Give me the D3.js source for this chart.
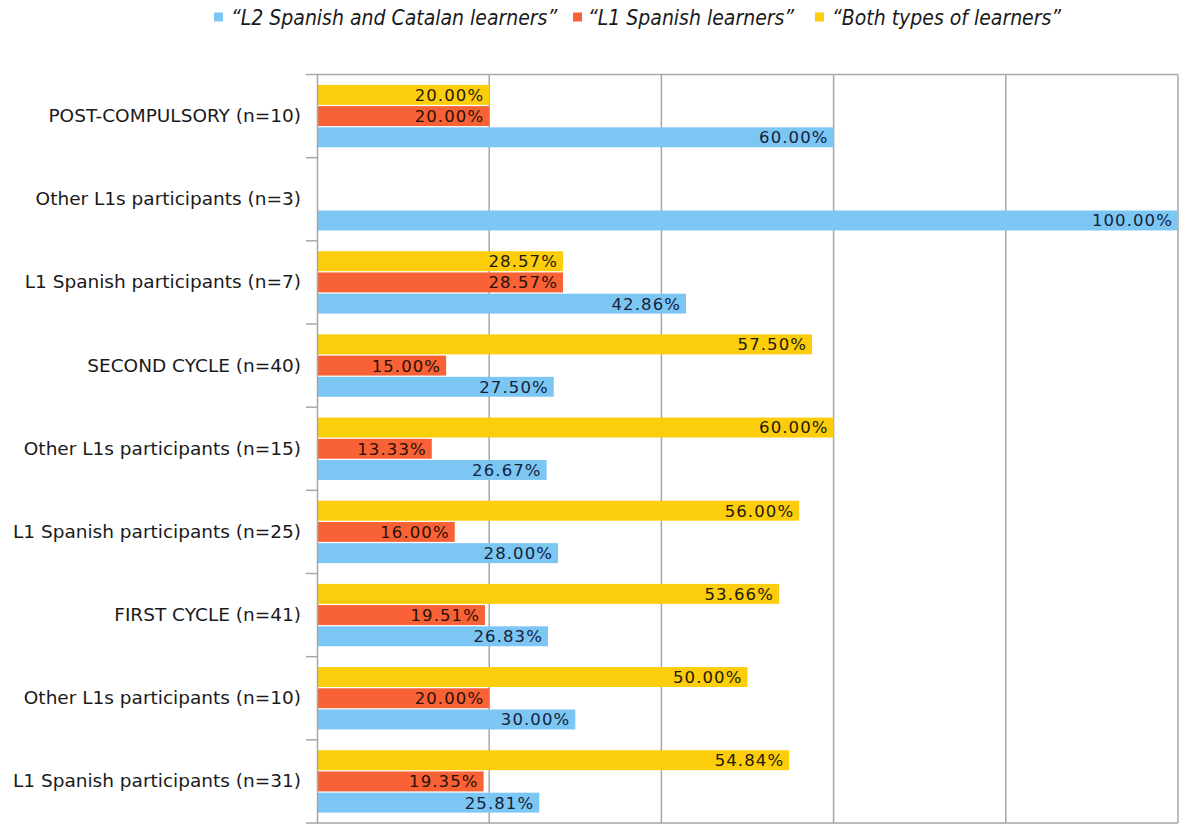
<!DOCTYPE html>
<html>
<head>
<meta charset="utf-8">
<script src="https://cdn.jsdelivr.net/npm/d3@7"></script>
<style>
  html, body { margin: 0; padding: 0; background: #ffffff; }
  svg { display: block; }
</style>
</head>
<body>
<svg id="chart" width="1193" height="825"></svg>
<script>
// Group labels, top to bottom
const categories = [
  "POST-COMPULSORY (n=10)",
  "Other L1s participants (n=3)",
  "L1 Spanish participants (n=7)",
  "SECOND CYCLE (n=40)",
  "Other L1s participants (n=15)",
  "L1 Spanish participants (n=25)",
  "FIRST CYCLE (n=41)",
  "Other L1s participants (n=10)",
  "L1 Spanish participants (n=31)"
];

// Percentages per series
const l2Values   = [60.00, 100.00, 42.86, 27.50, 26.67, 28.00, 26.83, 30.00, 25.81];
const l1Values   = [20.00,   0.00, 28.57, 15.00, 13.33, 16.00, 19.51, 20.00, 19.35];
const bothValues = [20.00,   0.00, 28.57, 57.50, 60.00, 56.00, 53.66, 50.00, 54.84];

const seriesNames = [
  "\u201CL2 Spanish and Catalan learners\u201D",
  "\u201CL1 Spanish learners\u201D",
  "\u201CBoth types of learners\u201D"
];
const xTicks = [0, 20, 40, 60, 80, 100];

const colors = { l2: "#7cc6f4", l1: "#f86236", both: "#fccd0a" };

const series = [
  { key: "both", name: seriesNames[2], values: bothValues, color: colors.both, text: "#1e1a10" },
  { key: "l1",   name: seriesNames[1], values: l1Values,   color: colors.l1,   text: "#2a1006" },
  { key: "l2",   name: seriesNames[0], values: l2Values,   color: colors.l2,   text: "#14223a" }
];

const svg = d3.select("#chart");
const plot = { left: 317, right: 1178, top: 74.5, bottom: 823 };

const x = d3.scaleLinear().domain([0, 100]).range([plot.left, plot.right]);
const y = d3.scaleBand().domain(d3.range(categories.length)).range([plot.top, plot.bottom]).padding(0);
const bw = y.bandwidth();
const inner = d3.scaleBand().domain(series.map(s => s.key))
  .range([bw * 0.125, bw * 0.875]).paddingInner(0.06);

// Vertical gridlines
svg.append("g").selectAll("line")
  .data(xTicks.slice(1))
  .join("line")
  .attr("x1", d => x(d)).attr("x2", d => x(d))
  .attr("y1", plot.top).attr("y2", plot.bottom)
  .attr("stroke", "#a6a6a6").attr("stroke-width", 1.5);

// Top and bottom frame lines
svg.append("g").selectAll("line")
  .data([plot.top, plot.bottom])
  .join("line")
  .attr("x1", plot.left).attr("x2", plot.right)
  .attr("y1", d => d).attr("y2", d => d)
  .attr("stroke", "#a6a6a6").attr("stroke-width", 1.5);

// Bars
const groups = svg.append("g").selectAll("g")
  .data(categories.map((c, i) => i))
  .join("g")
  .attr("transform", i => `translate(0,${y(i)})`);

series.forEach(s => {
  groups.append("rect")
    .attr("x", x(0))
    .attr("y", inner(s.key))
    .attr("width", i => x(s.values[i]) - x(0))
    .attr("height", inner.bandwidth())
    .attr("fill", s.color);

  groups.filter(i => s.values[i] > 0)
    .append("text")
    .attr("x", i => x(s.values[i]) - 5)
    .attr("y", inner(s.key) + inner.bandwidth() / 2)
    .attr("dy", "0.36em")
    .attr("text-anchor", "end")
    .attr("font-family", "'DejaVu Sans', Verdana, sans-serif")
    .attr("font-size", 16.5)
    .attr("letter-spacing", 1.1)
    .attr("fill", s.text)
    .text(i => s.values[i].toFixed(2) + "%");
});

// Left axis with category labels
const yAxis = d3.axisLeft(y)
  .tickFormat(i => categories[i])
  .tickSize(0)
  .tickPadding(16);
const axisG = svg.append("g")
  .attr("transform", `translate(${plot.left},0)`)
  .call(yAxis);
axisG.select(".domain").attr("stroke", "#a6a6a6").attr("stroke-width", 1.5);
axisG.selectAll("text")
  .attr("font-family", "'DejaVu Sans', Verdana, sans-serif")
  .attr("font-size", 18.5)
  .attr("fill", "#1a1a1a");

// Tick marks on the band boundaries
svg.append("g").selectAll("line")
  .data(d3.range(categories.length + 1))
  .join("line")
  .attr("x1", plot.left - 11).attr("x2", plot.left)
  .attr("y1", i => plot.top + i * bw).attr("y2", i => plot.top + i * bw)
  .attr("stroke", "#a6a6a6").attr("stroke-width", 1.5);

// Legend
const legendItems = [
  { name: seriesNames[0], color: colors.l2, x: 214, tx: 231 },
  { name: seriesNames[1], color: colors.l1, x: 573, tx: 588 },
  { name: seriesNames[2], color: colors.both, x: 815, tx: 832 }
];
const legend = svg.append("g");
legendItems.forEach(d => {
  legend.append("rect")
    .attr("x", d.x).attr("y", 12.5).attr("width", 9).attr("height", 9)
    .attr("fill", d.color);
  legend.append("text")
    .attr("x", d.tx).attr("y", 17)
    .attr("dy", "0.36em")
    .attr("font-family", "'Liberation Sans Narrow', 'DejaVu Sans Condensed', sans-serif")
    .attr("font-style", "italic")
    .attr("font-size", 21)
    .attr("fill", "#1a1a1a")
    .text(d.name);
});
</script>
</body>
</html>
